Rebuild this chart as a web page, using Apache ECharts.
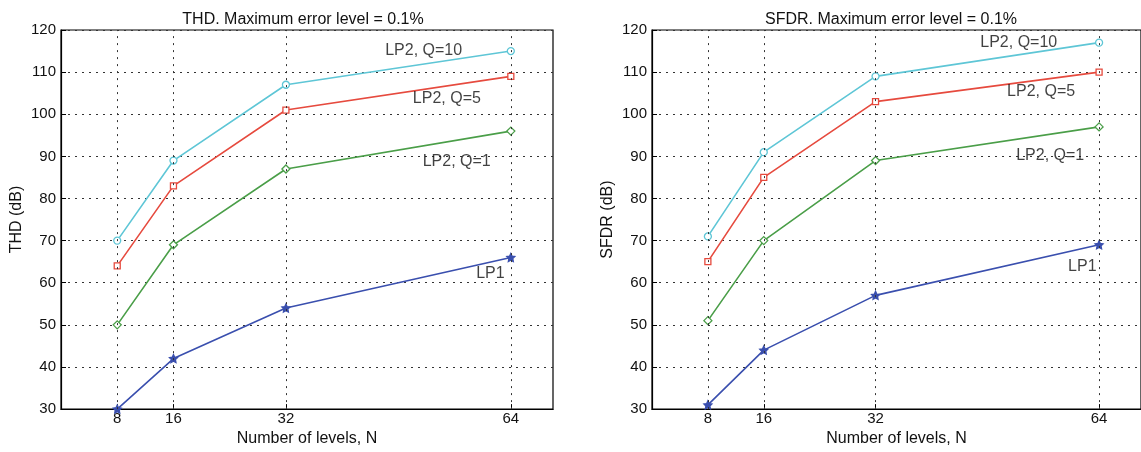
<!DOCTYPE html>
<html>
<head>
<meta charset="utf-8">
<script src="https://cdn.jsdelivr.net/npm/echarts@6/dist/echarts.min.js"></script>
<style>
html,body{margin:0;padding:0;background:#fff;}
#main{width:1141px;height:452px;}
</style>
</head>
<body>
<div id="main"></div>
<script>
// ---- data ----
const levels = [8, 16, 32, 64];
const xTicks = [8, 16, 32, 64];

const thdQ10 = [70, 89, 107, 115];
const thdQ5  = [64, 83, 101, 109];
const thdQ1  = [50, 69, 87, 96];
const thdLP1 = [30, 42, 54, 66];

const sfdrQ10 = [71, 91, 109, 117];
const sfdrQ5  = [65, 85, 103, 110];
const sfdrQ1  = [51, 70, 89, 97];
const sfdrLP1 = [31, 44, 57, 69];

const seriesNames = ['LP2, Q=10', 'LP2, Q=5', 'LP2, Q=1', 'LP1'];
// annotation anchor points in data units [N, dB]
const thdNotes  = [[51.6, 115.1], [54.9, 103.7], [56.3, 88.7], [61.1, 62.1]];
const sfdrNotes = [[52.5, 117.1], [55.7, 105.4], [57.0, 90.2], [61.6, 63.8]];

const titles = ['THD. Maximum error level = 0.1%', 'SFDR. Maximum error level = 0.1%'];
const yNames = ['THD (dB)', 'SFDR (dB)'];

// ---- styles ----
const colors = ['#5ec6d6', '#e64a3e', '#4a9e48', '#3a4fae'];
const symbols = ['circle', 'rect', 'diamond',
  'path://M0,-10 L2.9,-4 L9.5,-3.1 L4.7,1.5 L5.9,8.1 L0,5 L-5.9,8.1 L-4.7,1.5 L-9.5,-3.1 L-2.9,-4 Z'];
const symbolSizes = [7, 6, 8, 8];
const font = 'Liberation Sans, Arial, sans-serif';
const fs = 16;
const gridDash = { type: [2, 5], color: '#333', width: 1 };

const grids = [
  { left: 61, right: 588, top: 30, bottom: 32 },
  { left: 652, right: -4, top: 30, bottom: 32 }
];
const titleCenters = [298, 886];

function mk(vals) { return levels.map((n, i) => [n, vals[i]]); }

const sets = [
  [thdQ10, thdQ5, thdQ1, thdLP1],
  [sfdrQ10, sfdrQ5, sfdrQ1, sfdrLP1]
];
const notes = [thdNotes, sfdrNotes];

const xAxes = [], yAxes = [], series = [], titleOpts = [];
grids.forEach((g, gi) => {
  g.show = true; g.borderColor = '#000'; g.borderWidth = 1.2; g.backgroundColor = '#fff';
  xAxes.push({
    type: 'value', gridIndex: gi, min: 0, max: 70,
    name: 'Number of levels, N', nameLocation: 'middle', nameGap: 14,
    nameTextStyle: { fontFamily: font, fontSize: fs, color: '#111' },
    axisLine: { show: true, lineStyle: { color: '#000', width: 1.2 } },
    axisTick: { show: true, inside: true, length: 5, customValues: xTicks, lineStyle: { color: '#000' } },
    axisLabel: { customValues: xTicks, fontFamily: font, fontSize: 15, color: '#111', margin: 2 },
    splitLine: { show: false }
  });
  yAxes.push({
    type: 'value', gridIndex: gi, min: 30, max: 120, interval: 10,
    name: yNames[gi], nameLocation: 'middle', nameGap: 36, nameRotate: 90,
    nameTextStyle: { fontFamily: font, fontSize: fs, color: '#111' },
    axisLine: { show: true, lineStyle: { color: '#000', width: 1.2 } },
    axisTick: { show: true, inside: true, length: 5, lineStyle: { color: '#000' } },
    axisLabel: { fontFamily: font, fontSize: 15, color: '#111', margin: 5 },
    splitLine: { show: true, lineStyle: gridDash }
  });
  titleOpts.push({
    text: titles[gi], left: titleCenters[gi], top: 7, textAlign: 'center',
    textStyle: { fontFamily: font, fontSize: fs, fontWeight: 'normal', color: '#111' }
  });
  // vertical dotted grid lines at the tick positions
  series.push({
    type: 'line', xAxisIndex: gi, yAxisIndex: gi, data: [], z: 1, silent: true,
    markLine: {
      symbol: 'none', silent: true, animation: false,
      lineStyle: gridDash, label: { show: false },
      data: xTicks.map(v => ({ xAxis: v }))
    }
  });
  sets[gi].forEach((vals, si) => {
    series.push({
      name: seriesNames[si], type: 'line', xAxisIndex: gi, yAxisIndex: gi, z: 3,
      data: mk(vals), animation: false,
      symbol: symbols[si], symbolSize: symbolSizes[si], showAllSymbol: true,
      lineStyle: { color: colors[si], width: 1.6 },
      itemStyle: { color: si === 3 ? colors[si] : '#fff', borderColor: colors[si], borderWidth: 1.3 }
    });
  });
  series.push({
    type: 'scatter', xAxisIndex: gi, yAxisIndex: gi, z: 4, silent: true, animation: false,
    symbolSize: 1, itemStyle: { color: 'rgba(0,0,0,0)' },
    data: notes[gi].map((p, i) => ({ value: p, name: seriesNames[i] })),
    label: {
      show: true, position: 'inside', formatter: '{b}',
      fontFamily: font, fontSize: fs, color: '#111'
    }
  });
});

const chart = echarts.init(document.getElementById('main'), null, { renderer: 'canvas' });
chart.setOption({
  backgroundColor: '#fff',
  animation: false,
  title: titleOpts,
  grid: grids,
  xAxis: xAxes,
  yAxis: yAxes,
  series: series
});
</script>
</body>
</html>
